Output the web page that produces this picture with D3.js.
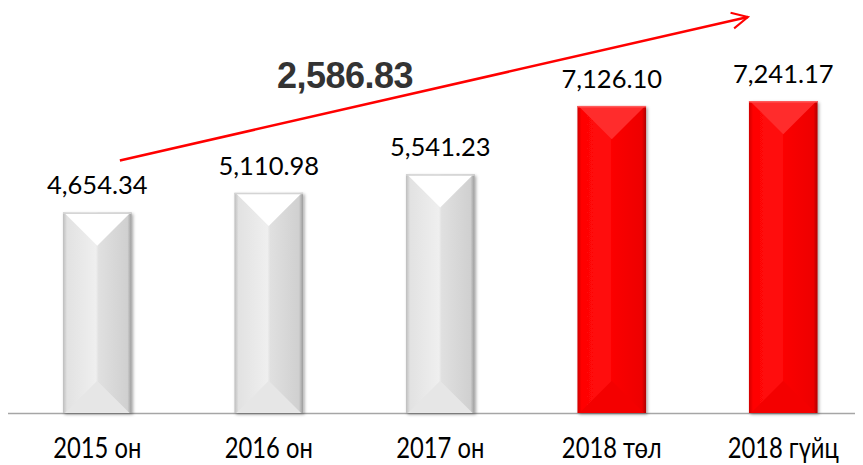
<!DOCTYPE html>
<html>
<head>
<meta charset="utf-8">
<script src="https://cdn.jsdelivr.net/npm/d3@7"></script>
<style>
  body { margin: 0; background: #fff; }
  svg { display: block; }
</style>
</head>
<body>
<script>
// data
var categories = ["2015 он", "2016 он", "2017 он", "2018 төл", "2018 гүйц"];
var values = [4654.34, 5110.98, 5541.23, 7126.10, 7241.17];
var valueLabels = ["4,654.34", "5,110.98", "5,541.23", "7,126.10", "7,241.17"];
var isRed = [false, false, false, true, true];
var growthLabel = "2,586.83";

var width = 863, height = 465;
var baseY = 413;

var svg = d3.select("body").append("svg")
    .attr("width", width)
    .attr("height", height);

var x = d3.scaleBand()
    .domain(categories)
    .range([11.5, 869])
    .paddingInner(0.6)
    .paddingOuter(0.3);

var y = d3.scaleLinear()
    .domain([0, 7241.17])
    .range([baseY, 101]);

var defs = svg.append("defs");

// gradients for the bevel look
function hGrad(id, stops) {
    var g = defs.append("linearGradient").attr("id", id)
        .attr("x1", "0").attr("x2", "1").attr("y1", "0").attr("y2", "0");
    stops.forEach(function (s) {
        g.append("stop").attr("offset", s[0]).attr("stop-color", s[1]);
    });
}
hGrad("grayBody", [[0, "#bdbdbd"], [0.06, "#e2e2e2"], [0.48, "#efefef"], [0.52, "#e0e0e0"], [0.94, "#d0d0d0"], [1, "#9c9c9c"]]);
hGrad("redBody", [[0, "#d00000"], [0.06, "#ff0505"], [0.48, "#ff0a0a"], [0.52, "#fb0000"], [0.94, "#ee0000"], [1, "#b00000"]]);

var shadow = defs.append("filter").attr("id", "shadow")
    .attr("x", "-20%").attr("y", "-10%").attr("width", "150%").attr("height", "130%");
shadow.append("feDropShadow")
    .attr("dx", 1.5).attr("dy", 1.5).attr("stdDeviation", 1.8)
    .attr("flood-color", "#000").attr("flood-opacity", 0.35);

var marker = defs.append("marker").attr("id", "arrowHead")
    .attr("viewBox", "0 0 20 20").attr("refX", 18).attr("refY", 10)
    .attr("markerWidth", 20).attr("markerHeight", 20)
    .attr("markerUnits", "userSpaceOnUse").attr("orient", "auto");
marker.append("path").attr("d", "M2,2 L18,10 L2,18")
    .attr("fill", "none").attr("stroke", "#ff0000").attr("stroke-width", 2);

// baseline
svg.append("line")
    .attr("x1", 8).attr("x2", 855)
    .attr("y1", baseY + 0.5).attr("y2", baseY + 0.5)
    .attr("stroke", "#a6a6a6").attr("stroke-width", 1.5);

// bars
var bars = svg.selectAll("g.bar").data(categories).enter().append("g")
    .attr("class", "bar");

bars.each(function (c, i) {
    var g = d3.select(this);
    var x0 = x(c), w = x.bandwidth(), x1 = x0 + w;
    var top = y(values[i]), bot = y(0);
    var b = w / 2;
    var red = isRed[i];

    g.append("rect")
        .attr("x", x0).attr("y", top)
        .attr("width", w).attr("height", bot - top)
        .attr("fill", red ? "url(#redBody)" : "url(#grayBody)")
        .attr("filter", "url(#shadow)");

    // top bevel triangle
    g.append("path")
        .attr("d", "M" + (x0 + 2) + "," + (top + 1) + "L" + (x1 - 2) + "," + (top + 1) + "L" + (x0 + b) + "," + (top + b - 1) + "Z")
        .attr("fill", red ? "#ff2c2c" : "#ffffff");
    // bottom bevel triangle
    g.append("path")
        .attr("d", "M" + (x0 + 2) + "," + bot + "L" + (x1 - 2) + "," + bot + "L" + (x0 + b) + "," + (bot - b + 2) + "Z")
        .attr("fill", red ? "#f40000" : "#e6e6e6");
    // thin top edge
    g.append("rect")
        .attr("x", x0).attr("y", top).attr("width", w).attr("height", 1.5)
        .attr("fill", red ? "#ff5a5a" : "#d4d4d4");
});

// value labels
svg.selectAll("text.val").data(categories).enter().append("text")
    .attr("class", "val")
    .attr("x", function (c) { return x(c) + x.bandwidth() / 2; })
    .attr("y", function (c, i) { return y(values[i]) - 18; })
    .attr("text-anchor", "middle")
    .attr("font-family", "Lato, 'Open Sans', sans-serif")
    .attr("font-size", 25.5)
    .attr("fill", "#000")
    .text(function (c, i) { return valueLabels[i]; });

// category labels (narrow font look)
svg.selectAll("text.cat").data(categories).enter().append("text")
    .attr("class", "cat")
    .attr("transform", function (c) {
        return "translate(" + (x(c) + x.bandwidth() / 2) + ",458) scale(0.82,1)";
    })
    .attr("text-anchor", "middle")
    .attr("font-family", "Lato, 'Open Sans', sans-serif")
    .attr("font-size", 29)
    .attr("fill", "#000")
    .text(function (c) { return c; });

// growth arrow
var ax0 = x(categories[0]) + x.bandwidth() * 0.83;
var ay0 = y(values[0]) - 52;
var ax1 = x(categories[4]) - 1;
var ay1 = y(values[4]) - 84;
svg.append("line")
    .attr("x1", ax0).attr("y1", ay0)
    .attr("x2", ax1).attr("y2", ay1)
    .attr("stroke", "#ff0000").attr("stroke-width", 2.5)
    .attr("marker-end", "url(#arrowHead)");

svg.append("text")
    .attr("x", 345)
    .attr("y", 88)
    .attr("text-anchor", "middle")
    .attr("font-family", "'Liberation Sans', Arial, sans-serif")
    .attr("font-weight", "bold")
    .attr("font-size", 36)
    .attr("letter-spacing", -0.5)
    .attr("fill", "#333")
    .text(growthLabel);
</script>
</body>
</html>
